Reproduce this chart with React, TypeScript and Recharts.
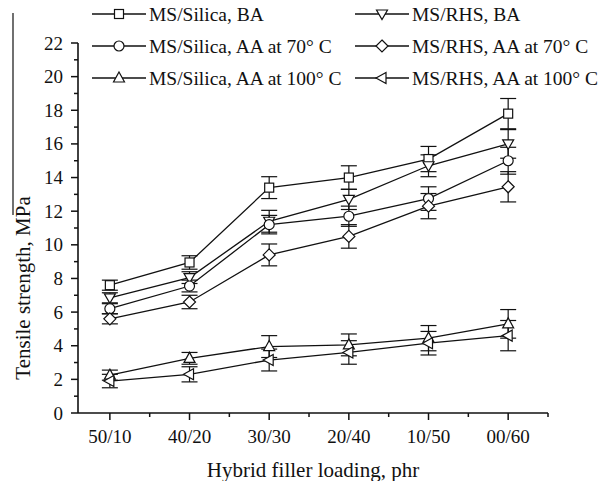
import React from 'react';
import { LineChart, Line, XAxis, YAxis, ErrorBar } from 'recharts';

const categories = ['50/10', '40/20', '30/30', '20/40', '10/50', '00/60'];
const silicaBA = [7.6, 8.95, 13.4, 14.0, 15.1, 17.8];
const silicaBAErr = [0.3, 0.4, 0.65, 0.7, 0.75, 0.9];
const rhsBA = [6.85, 8.05, 11.4, 12.7, 14.7, 16.0];
const rhsBAErr = [0.3, 0.35, 0.65, 0.6, 0.65, 0.85];
const silicaAA70 = [6.2, 7.55, 11.2, 11.7, 12.75, 15.0];
const silicaAA70Err = [0.3, 0.35, 0.55, 0.6, 0.7, 0.8];
const rhsAA70 = [5.6, 6.6, 9.4, 10.5, 12.3, 13.45];
const rhsAA70Err = [0.3, 0.4, 0.65, 0.7, 0.75, 0.9];
const silicaAA100 = [2.25, 3.25, 3.95, 4.05, 4.45, 5.3];
const silicaAA100Err = [0.3, 0.35, 0.65, 0.65, 0.75, 0.85];
const rhsAA100 = [1.9, 2.3, 3.15, 3.6, 4.15, 4.6];
const rhsAA100Err = [0.4, 0.45, 0.65, 0.7, 0.7, 0.9];

const xTicks = [1, 1.5, 2, 2.5, 3, 3.5, 4, 4.5, 5, 5.5, 6, 6.5];
const yTicks = Array.from({ length: 23 }, (_, i) => i);

const data = categories.map((c, i) => ({
  pos: i + 1,
  cat: c,
  silicaBA: silicaBA[i], silicaBAErr: silicaBAErr[i],
  rhsBA: rhsBA[i], rhsBAErr: rhsBAErr[i],
  silicaAA70: silicaAA70[i], silicaAA70Err: silicaAA70Err[i],
  rhsAA70: rhsAA70[i], rhsAA70Err: rhsAA70Err[i],
  silicaAA100: silicaAA100[i], silicaAA100Err: silicaAA100Err[i],
  rhsAA100: rhsAA100[i], rhsAA100Err: rhsAA100Err[i],
}));

const INK = '#111';
const FONT = '"Liberation Serif", "Times New Roman", serif';

type ShapeKind = 'square' | 'circle' | 'down' | 'diamond' | 'up' | 'left';

function Marker({ kind, cx, cy }: { kind: ShapeKind; cx: number; cy: number }) {
  const common = { fill: '#fff', stroke: INK, strokeWidth: 1.2 };
  switch (kind) {
    case 'square':
      return <rect x={cx - 4.5} y={cy - 4.5} width={9} height={9} {...common} />;
    case 'circle':
      return <circle cx={cx} cy={cy} r={5} {...common} />;
    case 'down':
      return <polygon points={`${cx - 5.5},${cy - 4} ${cx + 5.5},${cy - 4} ${cx},${cy + 5.5}`} {...common} />;
    case 'diamond':
      return <polygon points={`${cx},${cy - 6} ${cx + 6},${cy} ${cx},${cy + 6} ${cx - 6},${cy}`} {...common} />;
    case 'up':
      return <polygon points={`${cx},${cy - 6} ${cx + 5.5},${cy + 4} ${cx - 5.5},${cy + 4}`} {...common} />;
    case 'left':
      return <polygon points={`${cx - 6},${cy} ${cx + 4},${cy - 5.5} ${cx + 4},${cy + 5.5}`} {...common} />;
  }
  return null;
}

const makeDot = (kind: ShapeKind) => (props: any) => {
  const { cx, cy, index } = props;
  return <Marker key={`${kind}-${index}`} kind={kind} cx={cx} cy={cy} />;
};

const XTick = (props: any) => {
  const { x, y, payload } = props;
  const v = payload.value;
  const major = Number.isInteger(v);
  return (
    <g>
      <line x1={x} y1={y} x2={x} y2={y + (major ? 7 : 4)} stroke={INK} strokeWidth={1.5} />
      {major && (
        <text x={x} y={y + 30} textAnchor="middle" fontFamily={FONT} fontSize={19} fill={INK}>
          {categories[v - 1]}
        </text>
      )}
    </g>
  );
};

const YTick = (props: any) => {
  const { x, y, payload } = props;
  const v = payload.value;
  const major = v % 2 === 0;
  return (
    <g>
      <line x1={x} y1={y} x2={x - (major ? 7 : 4)} y2={y} stroke={INK} strokeWidth={1.5} />
      {major && (
        <text x={x - 15} y={y + 6.5} textAnchor="end" fontFamily={FONT} fontSize={19} fill={INK}>
          {v}
        </text>
      )}
    </g>
  );
};

const series: { key: string; name: string; kind: ShapeKind }[] = [
  { key: 'silicaBA', name: 'MS/Silica, BA', kind: 'square' },
  { key: 'rhsBA', name: 'MS/RHS, BA', kind: 'down' },
  { key: 'silicaAA70', name: 'MS/Silica, AA at 70° C', kind: 'circle' },
  { key: 'rhsAA70', name: 'MS/RHS, AA at 70° C', kind: 'diamond' },
  { key: 'silicaAA100', name: 'MS/Silica, AA at 100° C', kind: 'up' },
  { key: 'rhsAA100', name: 'MS/RHS, AA at 100° C', kind: 'left' },
];

const legendPos = [
  { lx: 92, ly: 14 },
  { lx: 355, ly: 14 },
  { lx: 92, ly: 46 },
  { lx: 355, ly: 46 },
  { lx: 92, ly: 78 },
  { lx: 355, ly: 78 },
];

export default function App() {
  return (
    <div style={{ position: 'absolute', left: 0, top: 0, width: 613, height: 481, background: '#fff' }}>
      <LineChart width={613} height={481} data={data} margin={{ top: 43, right: 65, bottom: 0, left: 0 }}>
        <XAxis
          dataKey="pos"
          type="number"
          domain={[0.6, 6.5]}
          ticks={xTicks}
          interval={0}
          height={68}
          tickSize={0}
          tickMargin={0}
          tickLine={false}
          axisLine={{ stroke: INK, strokeWidth: 1.6 }}
          tick={<XTick />}
          allowDecimals
        />
        <YAxis
          type="number"
          domain={[0, 22]}
          ticks={yTicks}
          interval={0}
          width={78}
          tickSize={0}
          tickMargin={0}
          tickLine={false}
          axisLine={{ stroke: INK, strokeWidth: 1.6 }}
          tick={<YTick />}
        />
        {series.map((s) => (
          <Line
            key={s.key}
            dataKey={s.key}
            stroke={INK}
            strokeWidth={1.3}
            isAnimationActive={false}
            dot={makeDot(s.kind)}
            activeDot={false}
            type="linear"
          >
            <ErrorBar dataKey={`${s.key}Err`} width={8} stroke={INK} strokeWidth={1.2} direction="y" />
          </Line>
        ))}
      </LineChart>
      <svg width={613} height={481} style={{ position: 'absolute', left: 0, top: 0, pointerEvents: 'none' }}>
        {series.map((s, i) => {
          const { lx, ly } = legendPos[i];
          return (
            <g key={s.key}>
              <line x1={lx} y1={ly} x2={lx + 54} y2={ly} stroke={INK} strokeWidth={1.3} />
              <Marker kind={s.kind} cx={lx + 27} cy={ly} />
              <text x={lx + 57} y={ly + 6.5} fontFamily={FONT} fontSize={19.5} fill={INK}>
                {s.name}
              </text>
            </g>
          );
        })}
        <text x={313} y={477} textAnchor="middle" fontFamily={FONT} fontSize={21} fill={INK}>
          Hybrid filler loading, phr
        </text>
        <text
          transform="translate(30, 288) rotate(-90)"
          textAnchor="middle"
          fontFamily={FONT}
          fontSize={21}
          fill={INK}
        >
          Tensile strength, MPa
        </text>
        <line x1={13} y1={13} x2={13} y2={215} stroke={INK} strokeWidth={1.2} />
      </svg>
    </div>
  );
}
